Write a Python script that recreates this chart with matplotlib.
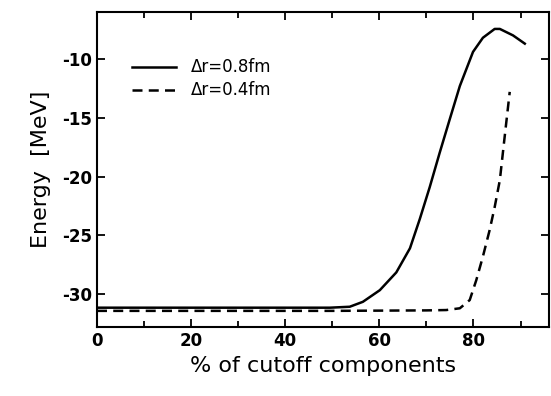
import numpy as np
import matplotlib
matplotlib.use("Agg")
from matplotlib import pyplot as plt
from matplotlib.ticker import MultipleLocator

plt.rcParams["axes.unicode_minus"] = False

# data
x_08 = [0, 10, 20, 30, 40, 49.5, 53.7, 56.5, 60.1, 63.6, 66.5, 68.6, 70.7, 72.8, 74.9, 77.1,
        79.9, 82.0, 84.5, 85.6, 88.4, 90.9]
e_08 = [-31.15, -31.15, -31.15, -31.15, -31.15, -31.15, -31.07, -30.65, -29.66, -28.15, -26.1,
        -23.6, -20.9, -18.0, -15.2, -12.3, -9.4, -8.2, -7.45, -7.45, -8.0, -8.7]
x_04 = [0, 10, 20, 30, 40, 50, 60, 70, 74.2, 77.1, 79.2, 80.6, 82.0, 83.4, 84.5, 85.6, 86.6, 87.7]
e_04 = [-31.42, -31.42, -31.42, -31.42, -31.42, -31.42, -31.4, -31.38, -31.35, -31.2, -30.5,
        -28.8, -26.8, -24.6, -22.6, -20.3, -16.7, -12.8]

fig = plt.figure(figsize=(5.51, 3.96), dpi=100)
ax = fig.add_axes([0.176, 0.174, 0.82, 0.796])

ax.plot(x_08, e_08, "k-", lw=1.8, label="Δr=0.8fm")
ax.plot(x_04, e_04, "k--", lw=1.8, dashes=(4, 2.5), label="Δr=0.4fm")

ax.set_xlim(0, 96)
ax.set_ylim(-32.8, -6.0)
ax.xaxis.set_major_locator(MultipleLocator(20))
ax.xaxis.set_minor_locator(MultipleLocator(10))
ax.yaxis.set_major_locator(MultipleLocator(5))
ax.tick_params(which="both", direction="in", top=True, right=True, labelsize=12, width=1.3)
ax.tick_params(which="major", length=6)
ax.tick_params(which="minor", length=4)
for lab in ax.get_xticklabels() + ax.get_yticklabels():
    lab.set_fontweight("bold")
for s in ax.spines.values():
    s.set_linewidth(1.5)

ax.set_xlabel("% of cutoff components", fontsize=16)
ax.set_ylabel("Energy  [MeV]", fontsize=16, labelpad=8)

ax.legend(loc="upper left", bbox_to_anchor=(0.045, 0.9), frameon=False, fontsize=12,
          handlelength=2.6, handletextpad=0.9, labelspacing=0.3)

plt.savefig("out.png", dpi=100)
